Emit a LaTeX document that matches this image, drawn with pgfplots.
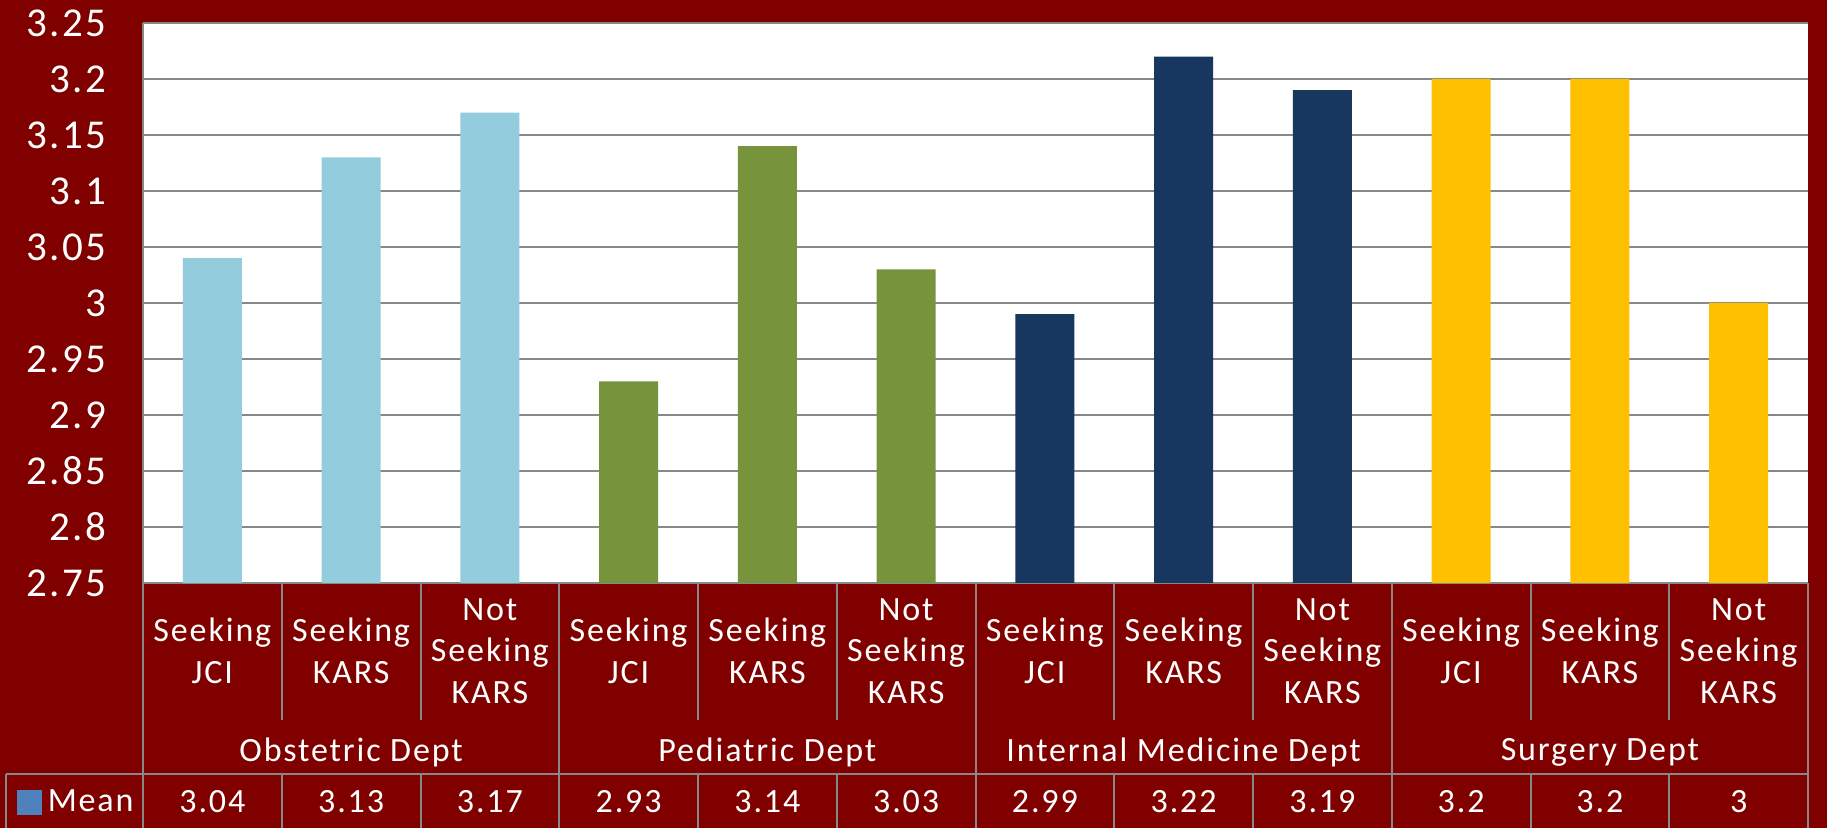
\documentclass[border=0pt]{standalone}
\usepackage{pgfplots}
\pgfplotsset{compat=1.18}
\usepackage{pgfplotstable}
\usepackage{fontspec}
\setmainfont{Carlito}[LetterSpace=5.5]

\definecolor{bgred}{HTML}{800000}
\definecolor{gridgray}{HTML}{888888}
\definecolor{obsblue}{HTML}{93CDDD}
\definecolor{pedgreen}{HTML}{77933C}
\definecolor{intnavy}{HTML}{17375E}
\definecolor{surggold}{HTML}{FFC000}
\definecolor{keyblue}{HTML}{4F81BD}

% mean of every column, x = category position
\pgfplotstableread{
x mean
0 3.04
1 3.13
2 3.17
3 2.93
4 3.14
5 3.03
6 2.99
7 3.22
8 3.19
9 3.2
10 3.2
11 3
}\meanrow

\begin{document}
\begin{tikzpicture}
\fill[bgred] (-71.5pt,-122.5pt) rectangle (842pt,291.5pt);
\begin{axis}[
    at={(0,0)}, anchor=south west,
    scale only axis,
    width=832.5pt, height=280pt,
    xmin=-0.5, xmax=11.5,
    ymin=2.75, ymax=3.25,
    clip=false,
    axis background/.style={fill=white},
    axis lines=left,
    axis line style={-, draw=gridgray, line width=1pt},
    ymajorgrids,
    grid style={draw=gridgray, line width=1pt},
    major tick length=0pt,
    /pgf/number format/assume math mode=true,
    ytick={2.75,2.8,2.85,2.9,2.95,3,3.05,3.1,3.15,3.2,3.25},
    yticklabel style={font=\fontsize{20.5}{24}\selectfont, text=white, xshift=-15pt},
    xtick={0,...,11},
    xticklabels={{Seeking\\JCI},{Seeking\\KARS},{Not\\Seeking\\KARS},
                 {Seeking\\JCI},{Seeking\\KARS},{Not\\Seeking\\KARS},
                 {Seeking\\JCI},{Seeking\\KARS},{Not\\Seeking\\KARS},
                 {Seeking\\JCI},{Seeking\\KARS},{Not\\Seeking\\KARS}},
    xticklabel style={font=\fontsize{17}{20.8}\selectfont, text=white,
                      align=center, anchor=center, yshift=-34pt},
    extra x ticks={1,4,7,10},
    extra x tick labels={Obstetric Dept,Pediatric Dept,Internal Medicine Dept,Surgery Dept},
    extra x tick style={xticklabel style={yshift=-50.5pt}},
    legend style={at={(-0.0757,-0.3911)}, anchor=west, draw=none, fill=none,
                  text=white, font=\fontsize{17}{20}\selectfont,
                  inner sep=0pt, outer sep=0pt, nodes={inner sep=0pt}},
]

\addplot[ybar, bar width=29.5pt, bar shift=0pt, draw=none, fill=obsblue, forget plot]
    coordinates {(0,3.04) (1,3.13) (2,3.17)};
\addplot[ybar, bar width=29.5pt, bar shift=0pt, draw=none, fill=pedgreen, forget plot]
    coordinates {(3,2.93) (4,3.14) (5,3.03)};
\addplot[ybar, bar width=29.5pt, bar shift=0pt, draw=none, fill=intnavy, forget plot]
    coordinates {(6,2.99) (7,3.22) (8,3.19)};
\addplot[ybar, bar width=29.5pt, bar shift=0pt, draw=none, fill=surggold, forget plot]
    coordinates {(9,3.2) (10,3.2) (11,3)};

% data table row
\addplot[draw=none, mark=none, forget plot, nodes near coords, point meta=explicit,
    every node near coord/.append style={anchor=center, yshift=-109.5pt,
        font=\fontsize{17}{20}\selectfont, text=white}]
    table[x=x, y expr=2.75, meta=mean] {\meanrow};

\addlegendimage{legend image code/.code={
    \fill[keyblue] (0pt,-6pt) rectangle (12pt,6pt);
    \path (15pt,0pt);}}
\addlegendentry{Mean}
\end{axis}

% data table grid
\begin{scope}[gridgray, line width=1pt]
\foreach \j in {1,2,4,5,7,8,10,11}
    \draw (\j*69.375pt,0pt) -- (\j*69.375pt,-68.5pt);
\foreach \j in {0,...,12}
    \draw (\j*69.375pt,-95.5pt) -- (\j*69.375pt,-122.5pt);
\foreach \j in {0,3,6,9,12}
    \draw (\j*69.375pt,0pt) -- (\j*69.375pt,-95.5pt);
\draw (-68.5pt,-95.5pt) -- (832.5pt,-95.5pt);
\draw (-68.5pt,-95.5pt) -- (-68.5pt,-122.5pt);
\end{scope}

\pgfresetboundingbox
\path[use as bounding box] (-71.5pt,-122.5pt) rectangle (842pt,291.5pt);
\end{tikzpicture}
\end{document}
